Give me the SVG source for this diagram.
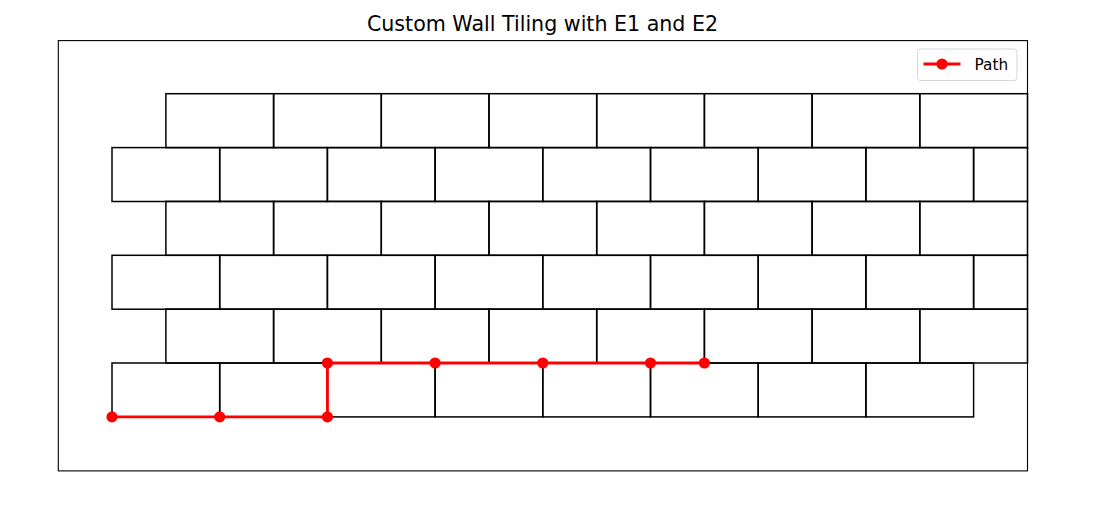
<svg xmlns="http://www.w3.org/2000/svg" width="1115" height="512" viewBox="0 0 1115 512">
<style>
.b{fill:none;stroke:#000;stroke-width:1.5}
.p{fill:none;stroke:#ff0000;stroke-width:2.8;stroke-linejoin:round}
.m{fill:#ff0000}
.t{font-family:"DejaVu Sans",sans-serif;fill:#000}
</style>
<rect width="1115" height="512" fill="#fff"/>
<text class="t" x="542.5" y="31" font-size="20.6" text-anchor="middle">Custom Wall Tiling with E1 and E2</text>
<g id="bricks">
<g id="row0">
<rect class="b" x="112" y="363" width="107.7" height="53.9"/>
<rect class="b" x="219.7" y="363" width="107.7" height="53.9"/>
<rect class="b" x="327.4" y="363" width="107.7" height="53.9"/>
<rect class="b" x="435.1" y="363" width="107.7" height="53.9"/>
<rect class="b" x="542.8" y="363" width="107.7" height="53.9"/>
<rect class="b" x="650.5" y="363" width="107.7" height="53.9"/>
<rect class="b" x="758.2" y="363" width="107.7" height="53.9"/>
<rect class="b" x="865.9" y="363" width="107.7" height="53.9"/>
</g>
<g id="row1">
<rect class="b" x="165.9" y="309.1" width="107.7" height="53.9"/>
<rect class="b" x="273.6" y="309.1" width="107.7" height="53.9"/>
<rect class="b" x="381.3" y="309.1" width="107.7" height="53.9"/>
<rect class="b" x="489" y="309.1" width="107.7" height="53.9"/>
<rect class="b" x="596.7" y="309.1" width="107.7" height="53.9"/>
<rect class="b" x="704.4" y="309.1" width="107.7" height="53.9"/>
<rect class="b" x="812.1" y="309.1" width="107.7" height="53.9"/>
<rect class="b" x="919.8" y="309.1" width="107.7" height="53.9"/>
</g>
<g id="row2">
<rect class="b" x="112" y="255.3" width="107.7" height="53.9"/>
<rect class="b" x="219.7" y="255.3" width="107.7" height="53.9"/>
<rect class="b" x="327.4" y="255.3" width="107.7" height="53.9"/>
<rect class="b" x="435.1" y="255.3" width="107.7" height="53.9"/>
<rect class="b" x="542.8" y="255.3" width="107.7" height="53.9"/>
<rect class="b" x="650.5" y="255.3" width="107.7" height="53.9"/>
<rect class="b" x="758.2" y="255.3" width="107.7" height="53.9"/>
<rect class="b" x="865.9" y="255.3" width="107.7" height="53.9"/>
<rect class="b" x="973.6" y="255.3" width="53.9" height="53.9"/>
</g>
<g id="row3">
<rect class="b" x="165.9" y="201.4" width="107.7" height="53.9"/>
<rect class="b" x="273.6" y="201.4" width="107.7" height="53.9"/>
<rect class="b" x="381.3" y="201.4" width="107.7" height="53.9"/>
<rect class="b" x="489" y="201.4" width="107.7" height="53.9"/>
<rect class="b" x="596.7" y="201.4" width="107.7" height="53.9"/>
<rect class="b" x="704.4" y="201.4" width="107.7" height="53.9"/>
<rect class="b" x="812.1" y="201.4" width="107.7" height="53.9"/>
<rect class="b" x="919.8" y="201.4" width="107.7" height="53.9"/>
</g>
<g id="row4">
<rect class="b" x="112" y="147.6" width="107.7" height="53.9"/>
<rect class="b" x="219.7" y="147.6" width="107.7" height="53.9"/>
<rect class="b" x="327.4" y="147.6" width="107.7" height="53.9"/>
<rect class="b" x="435.1" y="147.6" width="107.7" height="53.9"/>
<rect class="b" x="542.8" y="147.6" width="107.7" height="53.9"/>
<rect class="b" x="650.5" y="147.6" width="107.7" height="53.9"/>
<rect class="b" x="758.2" y="147.6" width="107.7" height="53.9"/>
<rect class="b" x="865.9" y="147.6" width="107.7" height="53.9"/>
<rect class="b" x="973.6" y="147.6" width="53.9" height="53.9"/>
</g>
<g id="row5">
<rect class="b" x="165.9" y="93.7" width="107.7" height="53.9"/>
<rect class="b" x="273.6" y="93.7" width="107.7" height="53.9"/>
<rect class="b" x="381.3" y="93.7" width="107.7" height="53.9"/>
<rect class="b" x="489" y="93.7" width="107.7" height="53.9"/>
<rect class="b" x="596.7" y="93.7" width="107.7" height="53.9"/>
<rect class="b" x="704.4" y="93.7" width="107.7" height="53.9"/>
<rect class="b" x="812.1" y="93.7" width="107.7" height="53.9"/>
<rect class="b" x="919.8" y="93.7" width="107.7" height="53.9"/>
</g>
</g>
<g id="connectors">
<polyline class="p" points="112,416.9 219.7,416.9 327.4,416.9 327.4,363 435.1,363 542.8,363 650.5,363 704.4,363"/>
<circle class="m" cx="112" cy="416.9" r="5.6"/>
<circle class="m" cx="219.7" cy="416.9" r="5.6"/>
<circle class="m" cx="327.4" cy="416.9" r="5.6"/>
<circle class="m" cx="327.4" cy="363" r="5.6"/>
<circle class="m" cx="435.1" cy="363" r="5.6"/>
<circle class="m" cx="542.8" cy="363" r="5.6"/>
<circle class="m" cx="650.5" cy="363" r="5.6"/>
<circle class="m" cx="704.4" cy="363" r="5.6"/>
</g>
<rect x="58.3" y="40.6" width="969.2" height="430.3" fill="none" stroke="#000" stroke-width="1.1"/>
<g id="legend">
<rect x="917.5" y="49" width="99.5" height="31.5" rx="3" fill="#fff" fill-opacity="0.8" stroke="#d6d6d6" stroke-width="1"/>
<line x1="923.5" y1="64" x2="960.5" y2="64" stroke="#ff0000" stroke-width="2.8"/>
<circle class="m" cx="942" cy="64" r="5.6"/>
<text class="t" x="974.5" y="70.3" font-size="15.3">Path</text>
</g>
</svg>
